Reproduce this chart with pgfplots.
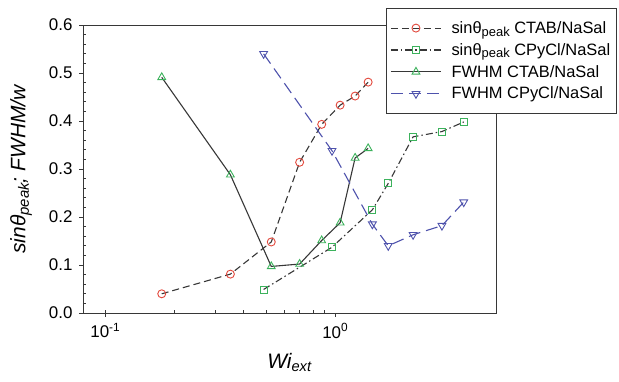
\documentclass[border=0pt]{standalone}
\usepackage{fontspec}
\setmainfont{Liberation Sans}
\usepackage{pgfplots}
\pgfplotsset{compat=1.18}
\usepackage{pgfplotstable}

\definecolor{mred}{RGB}{226,72,60}
\definecolor{mgreen}{RGB}{60,178,92}
\definecolor{mblue}{RGB}{78,82,172}
\definecolor{lgray}{RGB}{55,55,55}

% subscript "peak", set a little larger than \textsubscript
\newcommand{\pk}[1]{\raisebox{-0.32ex}{\fontsize{#1}{#1}\selectfont peak}}

% CTAB/NaSal: Wi_ext, sin(theta_peak), FWHM/w
\pgfplotstableread{
x      s      f
0.176  0.040  0.491
0.350  0.081  0.288
0.527  0.148  0.097
0.700  0.314  0.102
0.873  0.393  0.151
1.050  0.433  0.188
1.220  0.452  0.323
1.390  0.481  0.343
}\ctab

% CPyCl/NaSal: Wi_ext, sin(theta_peak), FWHM/w
\pgfplotstableread{
x      s      f
0.488  0.049  0.540
0.968  0.137  0.338
1.450  0.215  0.185
1.700  0.270  0.140
2.180  0.367  0.163
2.910  0.378  0.182
3.620  0.398  0.231
}\cpycl

\begin{document}
\begin{tikzpicture}
\begin{axis}[
  scale only axis, width=413bp, height=288bp,
  xmode=log, xmin=0.08, xmax=5, ymin=0, ymax=0.6,
  axis line style={lgray, line width=0.8bp},
  xtick pos=bottom, ytick pos=left,
  xtick={0.1,1}, xticklabels={10\textsuperscript{-1},10\textsuperscript{0}},
  ytick={0,0.1,0.2,0.3,0.4,0.5,0.6},
  yticklabels={0.0,0.1,0.2,0.3,0.4,0.5,0.6},
  minor y tick num=4,
  tick align=inside, major tick length=-4bp, minor tick length=3bp,
  tick style={lgray, line width=0.7bp},
  ticklabel style={font=\fontsize{17}{20}\selectfont},
  xticklabel style={yshift=-7bp},
  yticklabel style={xshift=-7bp},
  xlabel={\textit{Wi\textsubscript{ext}}},
  ylabel={\textit{sinθ\pk{15}; FWHM/w}},
  label style={font=\fontsize{21}{25}\selectfont},
  xlabel style={yshift=-8bp},
  ylabel style={yshift=10bp},
  legend style={at={(0.7337,1.0590)}, anchor=north west, draw=lgray,
    line width=0.8bp, font=\fontsize{16.5}{19}\selectfont,
    inner xsep=4bp, inner ysep=11bp, row sep=4.5bp, fill=white},
  legend cell align=left,
  legend image code/.code={\draw[mark repeat=2,mark phase=2,#1]
    plot coordinates {(0bp,0bp) (25bp,0bp) (50bp,0bp)};
    \path (58bp,0bp);},
  every axis plot/.append style={line width=1.1bp},
  clip=false,
]
\coordinate (bl) at (rel axis cs:0,0);
\coordinate (tr) at (rel axis cs:1,1);

\addplot[lgray, dash pattern=on 7bp off 4bp, mark=o, mark size=4bp,
  mark options={solid, mred, fill=white, line width=0.9bp}]
  table[x=x, y=s] {\ctab};
\addlegendentry{sinθ\pk{13} CTAB/NaSal}

\addplot[lgray, dash pattern=on 7bp off 3bp on 1.5bp off 3bp, mark=square, mark size=3.5bp,
  mark options={solid, mgreen, fill=white, line width=0.9bp}]
  table[x=x, y=s] {\cpycl};
\addlegendentry{sinθ\pk{13} CPyCl/NaSal}

\addplot[lgray, solid, mark=triangle, mark size=4.5bp,
  mark options={solid, mgreen, fill=white, line width=0.9bp}]
  table[x=x, y=f] {\ctab};
\addlegendentry{FWHM CTAB/NaSal}

\addplot[mblue, dash pattern=on 12bp off 6bp, mark=triangle, mark size=4.5bp,
  mark options={solid, mblue, fill=white, rotate=180, line width=0.9bp}]
  table[x=x, y=f] {\cpycl};
\addlegendentry{FWHM CPyCl/NaSal}
\end{axis}
% fixed page frame; the legend box runs past its right edge
\pgfresetboundingbox
\useasboundingbox ([shift={(-83bp,-69bp)}]bl) rectangle ([shift={(123bp,25bp)}]tr);
\end{tikzpicture}
\end{document}
